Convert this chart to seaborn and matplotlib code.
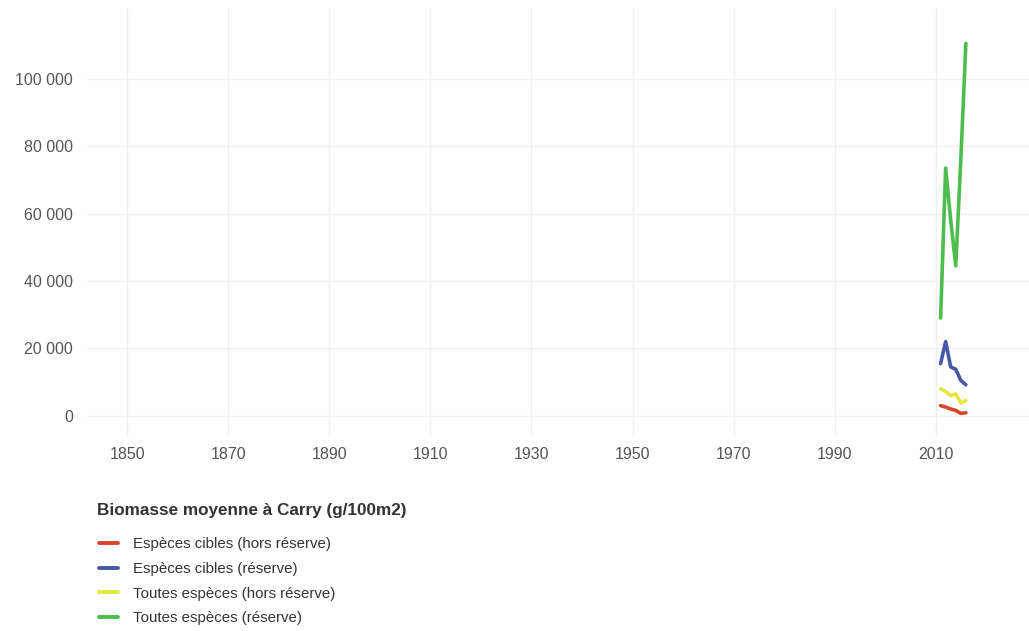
import matplotlib
matplotlib.use("Agg")
import matplotlib.pyplot as plt
from matplotlib.lines import Line2D
from matplotlib.ticker import FuncFormatter
import seaborn as sns
import pandas as pd

# Mean biomass at Carry (g/100m2), by year and group
years = [2011, 2012, 2013, 2014, 2015, 2016]
cibles_hors_reserve = [3000, 2600, 2000, 1600, 700, 900]
cibles_reserve = [15500, 22000, 14500, 13800, 10500, 9200]
toutes_hors_reserve = [8000, 7200, 6000, 6500, 3800, 4500]
toutes_reserve = [29000, 73500, 58000, 44500, 76000, 110500]

series_names = [
    "Espèces cibles (hors réserve)",
    "Espèces cibles (réserve)",
    "Toutes espèces (hors réserve)",
    "Toutes espèces (réserve)",
]
series_values = [cibles_hors_reserve, cibles_reserve, toutes_hors_reserve, toutes_reserve]
palette = ["#d8452a", "#4559a5", "#e6e63c", "#4dbd4d"]
legend_title = "Biomasse moyenne à Carry (g/100m2)"

x_ticks = [1850, 1870, 1890, 1910, 1930, 1950, 1970, 1990, 2010]
y_ticks = [0, 20000, 40000, 60000, 80000, 100000]

rows = []
for name, vals in zip(series_names, series_values):
    for yr, v in zip(years, vals):
        rows.append({"annee": yr, "biomasse": v, "groupe": name})
df = pd.DataFrame(rows)

sns.set_theme(style="white")
plt.rcParams["font.family"] = ["Liberation Sans", "DejaVu Sans"]

W, H = 1029, 631
fig = plt.figure(figsize=(W / 100, H / 100), dpi=100)
ax = fig.add_axes([87 / W, 1 - 436 / H, (W - 87) / W, (436 - 8) / H])

sns.lineplot(data=df, x="annee", y="biomasse", hue="groupe",
             hue_order=series_names, palette=palette, linewidth=2.6,
             legend=False, ax=ax)

ax.set_xlim(1842, 2028.5)
ax.set_ylim(-6000, 121000)
ax.set_xticks(x_ticks)
ax.set_yticks(y_ticks)
ax.yaxis.set_major_formatter(FuncFormatter(lambda v, p: f"{int(v):,}".replace(",", " ")))
ax.grid(True, color="#f0f0f0", linewidth=1.0)
ax.set_axisbelow(True)
for s in ax.spines.values():
    s.set_visible(False)
ax.tick_params(axis="both", length=0, labelsize=11.5, colors="#555555")
ax.tick_params(axis="x", pad=8)
ax.tick_params(axis="y", pad=10)
ax.set_xlabel("")
ax.set_ylabel("")

# Legend title and keys below the panel
fig.text(97 / W, 1 - 510 / H, legend_title, fontsize=12.3, fontweight="bold",
         color="#333333", ha="left", va="center")
handles = [Line2D([0], [0], color=c, linewidth=2.8) for c in palette]
leg = fig.legend(handles, series_names, loc="upper left",
                 bbox_to_anchor=(93 / W, 1 - 531 / H),
                 frameon=False, fontsize=10.8, handlelength=1.25,
                 handletextpad=1.0, labelspacing=0.72, borderaxespad=0,
                 borderpad=0.4)
for t in leg.get_texts():
    t.set_color("#333333")

fig.savefig("out.png", dpi=100)
